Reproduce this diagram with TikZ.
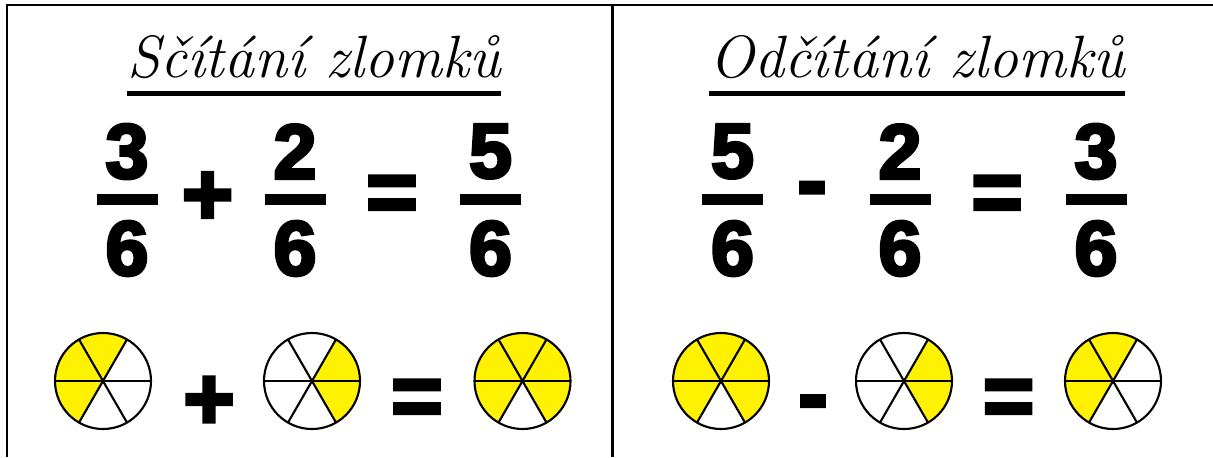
\documentclass[tikz,border=0pt]{standalone}
\usepackage{fontspec}
\font\digitfont="Liberation Sans/B:embolden=4" at 44pt
\font\opfont="Liberation Sans/B:embolden=4" at 50pt
\usepackage{tikz}
\usetikzlibrary{calc}
\tikzset{
    heading/.style={font={\itshape\fontsize{34}{34}\selectfont}, inner sep=0pt},
    digit/.style={font=\digitfont, inner sep=0pt},
    op/.style={font=\opfont, inner sep=0pt},
    bar/.style={line width=6.3pt},
    frame/.style={line width=1.7pt},
    pie line/.style={line width=1.2pt}
}
% kolac: stred, pocatecni uhly zlutych dilku
\newcommand{\kolac}[2]{
    \foreach \a in {#2}
        \fill[yellow] (#1) -- ++(\a:48) arc[start angle=\a, delta angle=60, radius=48] -- cycle;
    \foreach \a in {0,60,120}
        \draw[pie line] ($(#1)+(\a:48)$) -- ($(#1)+(\a+180:48)$);
    \draw[pie line] (#1) circle[radius=48];
}

\begin{document}
\begin{tikzpicture}[x=0.02cm, y=0.02cm]
    \useasboundingbox (0,0) rectangle (1213,457);

    % Ramecek
    \draw[frame] (5.5,452) -- (1213,452);
    \draw[frame] (7,452) -- (7,0);
    \draw[frame] (612,452) -- (612,0);

    % Nadpisy
    \node[heading] (titleA) at (314,400) {Sčítání zlomků};
    \node[heading] (titleB) at (917,400) {Odčítání zlomků};
    \draw[line width=2.8pt] (titleA.west |- 0,363.5) -- (titleA.east |- 0,363.5);
    \draw[line width=2.8pt] (titleB.west |- 0,363.5) -- (titleB.east |- 0,363.5);

    % Zlomky
    \foreach \x/\n/\d [count=\i] in {127/3/6, 295/2/6, 490.5/5/6, 732.5/5/6, 900/2/6, 1096/3/6} {
        \node[digit] (n\i) at (\x,305.5) {\n};
        \node[digit] (d\i) at (\x,208.5) {\d};
        \draw[bar] (\x-30.5,257.5) -- (\x+30.5,257.5);
    }
    \node[op] (plusA) at (207.5,258.5) {+};
    \node[op] (eqA) at (392,258) {=};
    \node[op] (minusB) at (812,260.5) {-};
    \node[op] (eqB) at (997,258) {=};

    % Kolace
    \kolac{103,76}{60,120,180}
    \kolac{312,76}{0,300}
    \kolac{522.5,76}{0,60,120,180,300}
    \kolac{721,76}{0,60,120,180,300}
    \kolac{904,76}{0,300}
    \kolac{1113,76}{60,120,180}
    \node[op] (plusP) at (209,54) {+};
    \node[op] (eqP) at (417,54) {=};
    \node[op] (minusQ) at (813,47) {-};
    \node[op] (eqQ) at (1008.5,54) {=};
\end{tikzpicture}
\end{document}
